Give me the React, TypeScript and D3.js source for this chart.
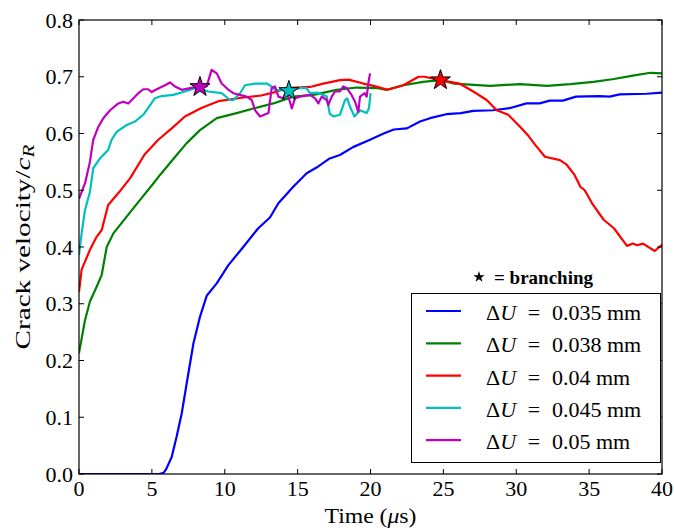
import React, { useEffect, useRef } from "react";
import * as d3 from "d3";

// crack velocity (normalised by c_R) vs time (us), one array per loading
const du035 = [
  [0, 0], [5.5, 0], [5.8, 0.002], [5.97, 0.008], [6.36, 0.03], [6.7, 0.066], [7.05, 0.107],
  [7.39, 0.16], [7.85, 0.23], [8.3, 0.277], [8.76, 0.314], [9.45, 0.336], [10.25, 0.368],
  [11.27, 0.4], [12.3, 0.433], [13.1, 0.452], [13.68, 0.477], [14.7, 0.506], [15.62, 0.53],
  [16.3, 0.54], [17.2, 0.556], [17.9, 0.562], [18.8, 0.576], [19.97, 0.589], [20.9, 0.6],
  [21.6, 0.607], [22.5, 0.609], [23.4, 0.621], [24.08, 0.627], [25.2, 0.634], [26.2, 0.636],
  [27.05, 0.64], [28.4, 0.641], [29.6, 0.645], [30.7, 0.653], [31.6, 0.653], [32.3, 0.658],
  [33.2, 0.658], [34.1, 0.665], [35.7, 0.666], [36.4, 0.665], [37.1, 0.669], [38.95, 0.67],
  [40, 0.672],
];

const du038 = [
  [0, 0.213], [0.41, 0.271], [0.75, 0.304], [1.21, 0.33], [1.56, 0.351], [1.9, 0.4],
  [2.36, 0.424], [3.16, 0.45], [4.19, 0.483], [5.1, 0.512], [5.56, 0.527], [6.7, 0.562],
  [7.39, 0.583], [8.3, 0.606], [9.45, 0.627], [10.82, 0.636], [11.96, 0.644], [13.33, 0.653],
  [14.7, 0.665], [16.08, 0.668], [17.68, 0.677], [19.05, 0.681], [20.5, 0.68], [21.1, 0.677],
  [22.25, 0.685], [23.6, 0.691], [24.8, 0.694], [25.7, 0.688], [28.2, 0.684], [30.26, 0.687],
  [32.1, 0.684], [33.7, 0.687], [35.3, 0.691], [36.7, 0.696], [38.0, 0.702], [39.2, 0.707],
  [40, 0.706],
];

const du040 = [
  [0, 0.321], [0.18, 0.36], [0.75, 0.395], [1.21, 0.418], [1.56, 0.43], [2.0, 0.474],
  [2.7, 0.495], [3.5, 0.521], [4.5, 0.563], [5.44, 0.589], [6.36, 0.609], [7.27, 0.63],
  [8.4, 0.645], [9.56, 0.657], [11.16, 0.663], [12.5, 0.667], [13.45, 0.673], [14.25, 0.68],
  [15.85, 0.682], [16.76, 0.688], [17.9, 0.694], [18.5, 0.695], [19.5, 0.688], [20.2, 0.684],
  [21.2, 0.677], [22.25, 0.685], [23.3, 0.7], [23.7, 0.7], [24.8, 0.694], [26.1, 0.688],
  [27.05, 0.674], [27.97, 0.659], [28.66, 0.641], [29.45, 0.633], [30.26, 0.612], [30.8, 0.597],
  [31.3, 0.58], [31.97, 0.559], [33.0, 0.553], [33.46, 0.545], [34.0, 0.527], [34.4, 0.506],
  [34.7, 0.5], [35.2, 0.477], [36.0, 0.448], [36.7, 0.433], [37.6, 0.402], [38.0, 0.406],
  [38.3, 0.403], [38.7, 0.406], [39.5, 0.393], [40, 0.404],
];

const du045 = [
  [0, 0.386], [0.18, 0.424], [0.41, 0.465], [0.75, 0.497], [0.98, 0.539], [1.44, 0.556],
  [2.0, 0.571], [2.24, 0.589], [2.58, 0.603], [3.27, 0.615], [3.84, 0.621], [4.41, 0.633],
  [5.2, 0.662], [5.67, 0.666], [6.47, 0.668], [7.27, 0.674], [7.96, 0.68], [8.3, 0.679],
  [8.87, 0.674], [9.79, 0.671], [10.36, 0.659], [10.6, 0.659], [11.05, 0.671], [11.39, 0.685],
  [12.08, 0.688], [12.88, 0.688], [13.2, 0.683], [13.5, 0.676], [14.36, 0.677], [15.16, 0.68],
  [15.6, 0.68], [15.85, 0.671], [16.4, 0.672], [17.0, 0.665], [17.2, 0.635], [17.45, 0.63],
  [17.9, 0.633], [18.25, 0.659], [18.4, 0.662], [18.6, 0.647], [18.9, 0.63], [19.28, 0.641],
  [19.74, 0.636], [19.9, 0.645], [20.0, 0.671],
];

const du050 = [
  [0, 0.485], [0.41, 0.512], [0.75, 0.55], [0.87, 0.571], [0.98, 0.589], [1.33, 0.612],
  [1.67, 0.627], [2.13, 0.641], [2.7, 0.653], [3.04, 0.656], [3.38, 0.653], [4.07, 0.671],
  [4.41, 0.678], [4.75, 0.678], [4.99, 0.673], [5.33, 0.678], [5.9, 0.685], [6.24, 0.69],
  [6.47, 0.685], [6.59, 0.683], [7.05, 0.677], [7.62, 0.68], [8.3, 0.683], [8.76, 0.683],
  [9.1, 0.712], [9.45, 0.706], [9.79, 0.688], [10.25, 0.677], [10.59, 0.671], [11.5, 0.665],
  [11.85, 0.659], [12.08, 0.641], [12.42, 0.63], [13.0, 0.636], [13.22, 0.68], [13.45, 0.683],
  [13.68, 0.665], [14.0, 0.662], [14.25, 0.674], [14.47, 0.656], [14.6, 0.644], [14.82, 0.662],
  [15.16, 0.665], [15.85, 0.668], [16.2, 0.662], [16.42, 0.653], [16.65, 0.665], [17.0, 0.659],
  [17.1, 0.65], [17.34, 0.665], [17.56, 0.674], [17.9, 0.674], [18.13, 0.683], [18.37, 0.68],
  [18.7, 0.668], [18.94, 0.656], [19.16, 0.638], [19.28, 0.665], [19.6, 0.671], [19.74, 0.665],
  [19.85, 0.688], [19.97, 0.706],
];

const seriesData = [du035, du038, du040, du045, du050];
const seriesValues = ["0.035", "0.038", "0.04", "0.045", "0.05"];
const seriesColors = ["#0000ff", "#008000", "#ff0000", "#00bfbf", "#bf00bf"];

// branching points
const branchTime = [8.3, 14.4, 24.8];
const branchVel = [0.682, 0.675, 0.694];
const branchColors = ["#bf00bf", "#00bfbf", "#ff0000"];

const xTicks = [0, 5, 10, 15, 20, 25, 30, 35, 40];
const yTicks = [0, 0.1, 0.2, 0.3, 0.4, 0.5, 0.6, 0.7, 0.8];

const FONT = "'Liberation Serif', 'DejaVu Serif', serif";

const App = () => {
  const ref = useRef(null);

  useEffect(() => {
    const svg = d3.select(ref.current);
    svg.selectAll("*").remove();

    const left = 79, right = 662, top = 20, bottom = 474;
    const x = d3.scaleLinear().domain([0, 40]).range([left, right]);
    const y = d3.scaleLinear().domain([0, 0.8]).range([bottom, top]);

    svg.append("rect").attr("width", 674).attr("height", 532).attr("fill", "white");

    const line = d3
      .line()
      .x((d) => x(d[0]))
      .y((d) => y(d[1]));

    svg
      .append("clipPath")
      .attr("id", "clip")
      .append("rect")
      .attr("x", left)
      .attr("y", top)
      .attr("width", right - left)
      .attr("height", bottom - top);

    const lines = svg.append("g").attr("clip-path", "url(#clip)");
    seriesData.forEach((s, i) => {
      lines
        .append("path")
        .attr("d", line(s))
        .attr("fill", "none")
        .attr("stroke", seriesColors[i])
        .attr("stroke-width", 2.2)
        .attr("stroke-linejoin", "round");
    });

    const star = d3.symbol(d3.symbolStar, 124);
    branchTime.forEach((t, i) => {
      svg
        .append("path")
        .attr("d", star())
        .attr("transform", `translate(${x(t)},${y(branchVel[i])})`)
        .attr("fill", branchColors[i])
        .attr("stroke", "black")
        .attr("stroke-width", 1);
    });

    // frame
    svg
      .append("rect")
      .attr("x", left)
      .attr("y", top)
      .attr("width", right - left)
      .attr("height", bottom - top)
      .attr("fill", "none")
      .attr("stroke", "black")
      .attr("stroke-width", 1.2);

    const tl = 5;
    xTicks.forEach((t) => {
      svg.append("line").attr("x1", x(t)).attr("x2", x(t)).attr("y1", bottom).attr("y2", bottom - tl).attr("stroke", "black");
      svg.append("line").attr("x1", x(t)).attr("x2", x(t)).attr("y1", top).attr("y2", top + tl).attr("stroke", "black");
      svg
        .append("text")
        .attr("x", x(t))
        .attr("y", 496)
        .attr("text-anchor", "middle")
        .attr("font-family", FONT)
        .attr("font-size", 22)
        .text(t);
    });
    yTicks.forEach((t) => {
      svg.append("line").attr("x1", left).attr("x2", left + tl).attr("y1", y(t)).attr("y2", y(t)).attr("stroke", "black");
      svg.append("line").attr("x1", right).attr("x2", right - tl).attr("y1", y(t)).attr("y2", y(t)).attr("stroke", "black");
      svg
        .append("text")
        .attr("x", 73)
        .attr("y", y(t) + 7.5)
        .attr("text-anchor", "end")
        .attr("font-family", FONT)
        .attr("font-size", 22)
        .text(d3.format(".1f")(t));
    });

    // axis labels
    const xl = svg
      .append("text")
      .attr("x", (left + right) / 2)
      .attr("y", 523)
      .attr("text-anchor", "middle")
      .attr("font-family", FONT)
      .attr("font-size", 22)
      .attr("textLength", 92)
      .attr("lengthAdjust", "spacingAndGlyphs");
    xl.append("tspan").text("Time (");
    xl.append("tspan").attr("font-style", "italic").text("μ");
    xl.append("tspan").text("s)");

    const yl = svg
      .append("text")
      .attr("transform", `translate(30,${(top + bottom) / 2}) rotate(-90)`)
      .attr("text-anchor", "middle")
      .attr("font-family", FONT)
      .attr("font-size", 22)
      .attr("textLength", 205)
      .attr("lengthAdjust", "spacingAndGlyphs");
    yl.append("tspan").text("Crack velocity/");
    yl.append("tspan").attr("font-style", "italic").text("c");
    yl.append("tspan").attr("font-style", "italic").attr("font-size", 16).attr("dy", 4).text("R");

    // legend
    const lg = svg.append("g");
    lg.append("path")
      .attr("d", d3.symbol(d3.symbolStar, 40)())
      .attr("transform", "translate(479,277)")
      .attr("fill", "black");
    lg.append("text")
      .attr("x", 494)
      .attr("y", 284)
      .attr("font-family", FONT)
      .attr("font-size", 19)
      .attr("font-weight", "bold")
      .text("= branching");

    lg.append("rect")
      .attr("x", 411.5)
      .attr("y", 293.5)
      .attr("width", 249)
      .attr("height", 169)
      .attr("fill", "white")
      .attr("stroke", "black")
      .attr("stroke-width", 1);

    seriesValues.forEach((v, i) => {
      const ry = 311 + i * 32.3;
      lg.append("line")
        .attr("x1", 426)
        .attr("x2", 461)
        .attr("y1", ry)
        .attr("y2", ry)
        .attr("stroke", seriesColors[i])
        .attr("stroke-width", 2.2);
      const t = lg
        .append("text")
        .attr("x", 486)
        .attr("y", ry + 9)
        .attr("font-family", FONT)
        .attr("font-size", 22);
      t.append("tspan").text("Δ");
      t.append("tspan").attr("font-style", "italic").text("U");
      lg.append("text")
        .attr("x", 534)
        .attr("y", ry + 9)
        .attr("text-anchor", "middle")
        .attr("font-family", FONT)
        .attr("font-size", 22)
        .text("=");
      lg.append("text")
        .attr("x", 552)
        .attr("y", ry + 9)
        .attr("font-family", FONT)
        .attr("font-size", 22)
        .text(`${v} mm`);
    });
  }, []);

  return (
    <svg
      ref={ref}
      width={674}
      height={532}
      style={{ position: "absolute", left: 0, top: 0 }}
    />
  );
};

export default App;
